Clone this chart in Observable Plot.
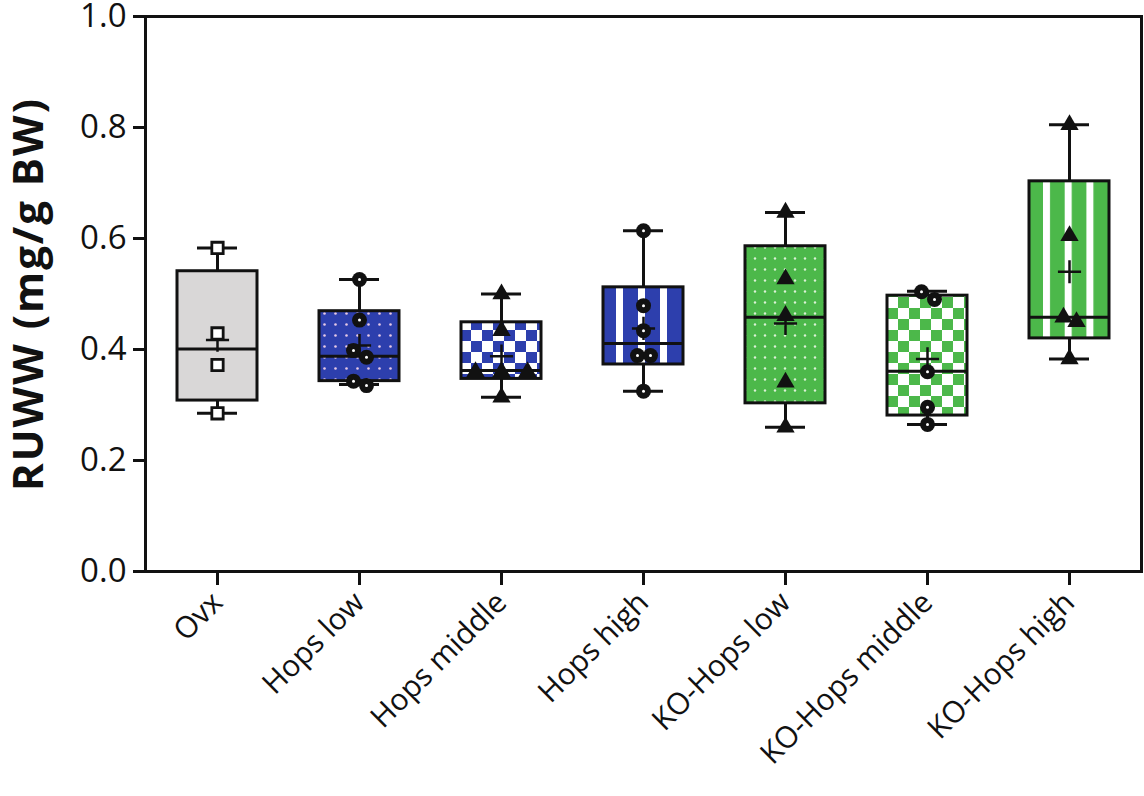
<!DOCTYPE html>
<html>
<head>
<meta charset="utf-8">
<script src="https://cdn.jsdelivr.net/npm/d3@7"></script>
<script src="https://cdn.jsdelivr.net/npm/@observablehq/plot@0.6"></script>
<style>
  html, body { margin: 0; padding: 0; background: #fff; }
  #chart { width: 1144px; height: 796px; }
</style>
</head>
<body>
<div id="chart"></div>
<script>
// ---- data ----
const groups = ["Ovx", "Hops low", "Hops middle", "Hops high", "KO-Hops low", "KO-Hops middle", "KO-Hops high"];
const q1          = [0.308, 0.343, 0.347, 0.373, 0.303, 0.281, 0.420];
const median      = [0.401, 0.388, 0.362, 0.411, 0.458, 0.361, 0.458];
const q3          = [0.541, 0.469, 0.449, 0.512, 0.586, 0.497, 0.703];
const whiskerLow  = [0.285, 0.337, 0.314, 0.325, 0.260, 0.265, 0.383];
const whiskerHigh = [0.583, 0.526, 0.500, 0.614, 0.647, 0.505, 0.805];
const mean        = [0.417, 0.407, 0.388, 0.438, 0.447, 0.383, 0.540];

const ptsOvx        = [0.583, 0.429, 0.372, 0.285];
const ptsHopsLow    = [0.526, 0.453, 0.398, 0.386, 0.343, 0.335];
const ptsHopsMiddle = [0.500, 0.434, 0.360, 0.360, 0.360, 0.314];
const ptsHopsHigh   = [0.614, 0.479, 0.434, 0.389, 0.389, 0.325];
const ptsKoLow      = [0.647, 0.527, 0.461, 0.341, 0.260];
const ptsKoMiddle   = [0.504, 0.490, 0.360, 0.296, 0.265];
const ptsKoHigh     = [0.805, 0.605, 0.458, 0.450, 0.383];

const yTicks = [0, 0.2, 0.4, 0.6, 0.8, 1.0];
const yLabel = "RUWW (mg/g BW)";

// ---- styles ----
const fills = ["#d9d7d7", "url(#dotsBlue)", "url(#checkBlue)", "url(#stripesBlue)",
               "url(#dotsGreen)", "url(#checkGreen)", "url(#stripesGreen)"];
const symbols = ["square", "circle", "triangle", "circle", "triangle", "circle", "triangle"];
const BLUE = "#2d3fad", GREEN = "#4cb84a";

const allPts = [ptsOvx, ptsHopsLow, ptsHopsMiddle, ptsHopsHigh, ptsKoLow, ptsKoMiddle, ptsKoHigh];

const boxes = groups.map((g, i) => ({
  group: g, q1: q1[i], median: median[i], q3: q3[i],
  lo: whiskerLow[i], hi: whiskerHigh[i], mean: mean[i], fill: fills[i]
}));

// points with simple dodge for near-equal values
const points = [];
allPts.forEach((vals, i) => {
  const sorted = [...vals].sort((a, b) => b - a);
  let k = 0;
  while (k < sorted.length) {
    let j = k;
    while (j + 1 < sorted.length && sorted[j] - sorted[j + 1] < 0.016) j++;
    const n = j - k + 1;
    const offs = n === 1 ? [0] : n === 2 ? [-6, 7] : d3.range(n).map(t => (t - (n - 1) / 2) * 26);
    for (let t = 0; t < n; t++) points.push({group: groups[i], value: sorted[k + t], symbol: symbols[i], dx: offs[t]});
    k = j + 1;
  }
});

const marks = [];
marks.push(Plot.frame({stroke: "#111", strokeWidth: 3}));
marks.push(Plot.ruleX(boxes, {x: "group", y1: "q3", y2: "hi", stroke: "#111", strokeWidth: 3}));
marks.push(Plot.ruleX(boxes, {x: "group", y1: "lo", y2: "q1", stroke: "#111", strokeWidth: 3}));
marks.push(Plot.tickY(boxes, {x: "group", y: "hi", stroke: "#111", strokeWidth: 3, insetLeft: 51, insetRight: 51}));
marks.push(Plot.tickY(boxes, {x: "group", y: "lo", stroke: "#111", strokeWidth: 3, insetLeft: 51, insetRight: 51}));
marks.push(Plot.barY(boxes, {x: "group", y1: "q1", y2: "q3", fill: "fill", stroke: "#111", strokeWidth: 3, insetLeft: 31, insetRight: 31}));
marks.push(Plot.tickY(boxes, {x: "group", y: "median", stroke: "#111", strokeWidth: 3, insetLeft: 31, insetRight: 31}));
marks.push(Plot.dot(boxes, {x: "group", y: "mean", symbol: "plus", r: 7.5, stroke: "#111", strokeWidth: 2.5}));

const combos = d3.groups(points, d => d.symbol, d => d.dx);
for (const [sym, byDx] of combos) {
  for (const [dx, pts] of byDx) {
    if (sym === "square") {
      marks.push(Plot.dot(pts, {x: "group", y: "value", symbol: "square", r: 6.4, dx, fill: "white", stroke: "#111", strokeWidth: 2.8}));
    } else if (sym === "circle") {
      marks.push(Plot.dot(pts, {x: "group", y: "value", symbol: "circle", r: 7.5, dx, fill: "#111", stroke: "none"}));
      marks.push(Plot.dot(pts, {x: "group", y: "value", symbol: "circle", r: 1.5, dx, fill: "white", stroke: "none"}));
    } else {
      marks.push(Plot.dot(pts, {x: "group", y: "value", symbol: "triangle", r: 6.8, dx, fill: "#111", stroke: "none"}));
    }
  }
}

marks.push(Plot.axisY({ticks: yTicks, tickFormat: d => d.toFixed(1), tickSize: 12, tickPadding: 7,
  strokeWidth: 3, fontSize: 33, label: null}));
marks.push(Plot.axisX({tickRotate: -45, tickSize: 14, tickPadding: 12, strokeWidth: 3, fontSize: 30, label: null}));
marks.push(Plot.text([yLabel], {frameAnchor: "left", dx: -116, rotate: -90, text: d => d,
  fontSize: 42, fontWeight: "bold", fill: "#111", textAnchor: "middle", lineAnchor: "middle"}));

const svg = Plot.plot({
  width: 1144, height: 796,
  marginLeft: 145, marginRight: 3, marginTop: 16, marginBottom: 225,
  style: {fontFamily: "'Open Sans', sans-serif", fontSize: "30px", color: "#111", background: "white", overflow: "visible"},
  x: {type: "band", domain: groups, padding: 0, axis: null},
  y: {domain: [0, 1], axis: null},
  color: {type: "identity"},
  marks
});

// enforce tick label font sizes and title letter spacing
d3.select(svg).selectAll('g[aria-label="y-axis tick label"] text').style("font-size", "33px");
d3.select(svg).selectAll('g[aria-label="x-axis tick label"] text').style("font-size", "30px");
d3.select(svg).selectAll('g[aria-label="text"] text').attr("letter-spacing", 2);

d3.select(svg).insert("defs", ":first-child").html(`
  <pattern id="dotsBlue" patternUnits="userSpaceOnUse" x="0" y="0" width="11" height="11">
    <rect width="11" height="11" fill="${BLUE}"/><circle cx="5.5" cy="5.5" r="1.3" fill="#e7c9e6"/>
  </pattern>
  <pattern id="checkBlue" patternUnits="userSpaceOnUse" x="460" y="0" width="22" height="22">
    <rect width="22" height="22" fill="white"/><rect width="11" height="11" fill="${BLUE}"/><rect x="11" y="11" width="11" height="11" fill="${BLUE}"/>
  </pattern>
  <pattern id="stripesBlue" patternUnits="userSpaceOnUse" x="616" y="0" width="22" height="22">
    <rect width="22" height="22" fill="${BLUE}"/><rect width="7" height="22" fill="white"/>
  </pattern>
  <pattern id="dotsGreen" patternUnits="userSpaceOnUse" x="0" y="0" width="10" height="11">
    <rect width="10" height="11" fill="${GREEN}"/><circle cx="5" cy="5.5" r="1.2" fill="#d9f0d4"/>
  </pattern>
  <pattern id="checkGreen" patternUnits="userSpaceOnUse" x="887" y="0" width="22" height="22">
    <rect width="22" height="22" fill="white"/><rect width="11" height="11" fill="${GREEN}"/><rect x="11" y="11" width="11" height="11" fill="${GREEN}"/>
  </pattern>
  <pattern id="stripesGreen" patternUnits="userSpaceOnUse" x="1043" y="0" width="21.7" height="22">
    <rect width="21.7" height="22" fill="${GREEN}"/><rect width="7" height="22" fill="white"/>
  </pattern>
`);

document.getElementById("chart").appendChild(svg);
</script>
</body>
</html>
